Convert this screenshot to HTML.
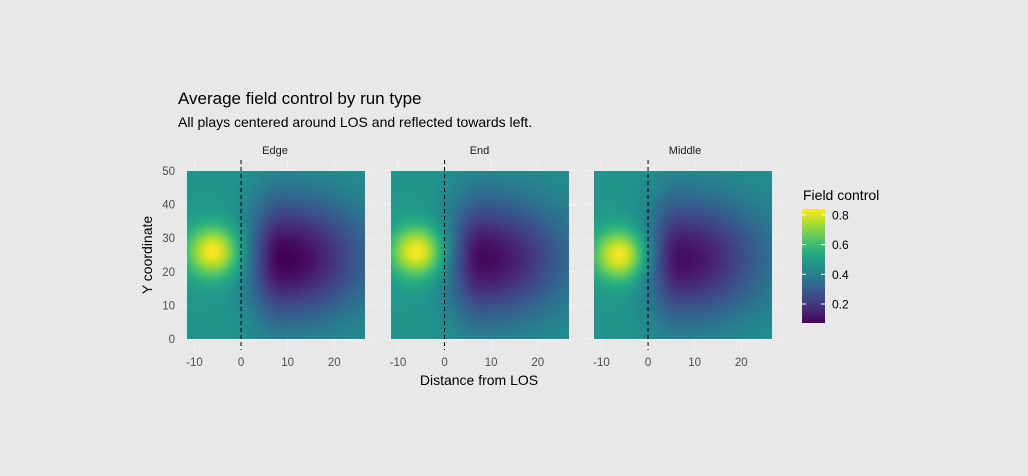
<!DOCTYPE html>
<html><head><meta charset="utf-8"><style>
body{margin:0;background:#e8e8e8;font-family:"Liberation Sans",sans-serif}
#wrap{position:relative;width:1028px;height:476px;overflow:hidden}
</style></head><body>
<div id="wrap">
<svg id="svg" width="1028" height="476" style="position:absolute;left:0;top:0">
<text x="178" y="104" font-size="17" fill="#000">Average field control by run type</text>
<text x="178" y="127" font-size="14" fill="#000">All plays centered around LOS and reflected towards left.</text>
<text x="479" y="385" font-size="14" text-anchor="middle" fill="#000">Distance from LOS</text>
<text transform="translate(152,255) rotate(-90)" font-size="14" text-anchor="middle" fill="#000">Y coordinate</text>
<text x="803" y="200" font-size="14" fill="#000">Field control</text>
<g id="g"></g>
</svg>
</div>
<script>
const panels=["Edge","End","Middle"];
const brightX=[-6,-6,-6], brightY=[26,26,25], brightAmp=[0.37,0.37,0.37];
const darkX=[9,8,7], darkY=[24,24,24], darkAmp=[0.40,0.38,0.37];
const baseVal=[0.47,0.47,0.47];
const xTicks=[-10,0,10,20], yTicks=[0,10,20,30,40,50], legendTicks=[0.2,0.4,0.6,0.8];
const xMin=-11.6,xMax=26.6,yMin=0,yMax=50;
const pw=178,ph=168,top0=171,left0=187,gap=203.5;
const vir=[[68,1,84],[72,36,117],[65,68,135],[53,95,141],[42,120,142],[33,145,140],[34,168,132],[68,190,112],[122,209,81],[189,223,38],[253,231,37]];
const cMin=0.072,cMax=0.84;
function col(v){let t=(v-cMin)/(cMax-cMin);t=Math.max(0,Math.min(1,t))*(vir.length-1);const i=Math.min(vir.length-2,Math.floor(t)),f=t-i;return vir[i].map((c,k)=>Math.round(c+(vir[i+1][k]-c)*f));}
function val(p,x,y){
 const d1=((x-brightX[p])**2)/(2*4.0**2)+((y-brightY[p])**2)/(2*5.3**2);
 const dx=x-darkX[p];const sx=dx<0?5:13;
 const d2=(dx*dx)/(2*sx*sx)+((y-darkY[p])**2)/(2*13**2);
 let v=baseVal[p]+brightAmp[p]*Math.exp(-d1)-darkAmp[p]*Math.exp(-d2);
 return v;}
const g=document.getElementById('g');const NS="http://www.w3.org/2000/svg";
function mk(t,a,par){const e=document.createElementNS(NS,t);for(const k in a)e.setAttribute(k,a[k]);(par||g).appendChild(e);return e;}
const sx=(p,x)=>left0+p*gap+(x-xMin)/(xMax-xMin)*pw;
const sy=y=>top0+ph-(y-yMin)/(yMax-yMin)*ph;
panels.forEach((name,p)=>{
 xTicks.forEach(t=>{const l=mk('line',{x1:sx(p,t),x2:sx(p,t),y1:160,y2:350,stroke:'#f2f2f2','stroke-width':1});
 
 
 const tx=mk('text',{x:sx(p,t),y:366,'font-size':11.5,'text-anchor':'middle',fill:'#4d4d4d'});tx.textContent=t;
 
 });
 yTicks.forEach(t=>{const l=mk('line',{x1:left0+p*gap-8,x2:left0+p*gap+pw+8,y1:sy(t),y2:sy(t),stroke:'#f2f2f2','stroke-width':1});
 
 });
 const fo=mk('foreignObject',{x:left0+p*gap,y:top0,width:pw,height:ph});
 
 
 const cv=document.createElement('canvas');cv.width=pw;cv.height=ph;cv.style.display='block';fo.appendChild(cv);
 const ctx=cv.getContext('2d');const im=ctx.createImageData(pw,ph);
 for(let j=0;j<ph;j++)for(let i=0;i<pw;i++){const x=xMin+(i+0.5)/pw*(xMax-xMin),y=yMax-(j+0.5)/ph*(yMax-yMin);const c=col(val(p,x,y));const o=(j*pw+i)*4;im.data[o]=c[0];im.data[o+1]=c[1];im.data[o+2]=c[2];im.data[o+3]=255;}
 ctx.putImageData(im,0,0);
 const los=mk('line',{x1:sx(p,0),x2:sx(p,0),y1:160,y2:350,stroke:'#000','stroke-width':1,'stroke-dasharray':'4,3'});
 
 
 const st=mk('text',{x:left0+p*gap+pw/2+(p==0?-1:0)+(p==2?2:0),y:154,'font-size':11,'text-anchor':'middle',fill:'#1a1a1a'});st.textContent=name;
 
 
});
yTicks.forEach(t=>{const tx=mk('text',{x:175,y:sy(t)+4,'font-size':11.5,'text-anchor':'end',fill:'#4d4d4d'});tx.textContent=t;
 
 });
const lb={x:802,w:23,top:209,bot:323};
const ly=v=>lb.bot-(v-cMin)/(cMax-cMin)*(lb.bot-lb.top);
const fo=mk('foreignObject',{x:lb.x,y:lb.top,width:lb.w,height:lb.bot-lb.top});


const cv=document.createElement('canvas');cv.width=lb.w;cv.height=lb.bot-lb.top;cv.style.display='block';fo.appendChild(cv);
const c2=cv.getContext('2d');for(let j=0;j<cv.height;j++){const c=col(cMax-(j+0.5)/cv.height*(cMax-cMin));c2.fillStyle=`rgb(${c})`;c2.fillRect(0,j,lb.w,1);}
legendTicks.forEach(t=>{const y=ly(t);
 mk('line',{x1:lb.x,x2:lb.x+4,y1:y,y2:y,stroke:'#fff'});mk('line',{x1:lb.x+lb.w-4,x2:lb.x+lb.w,y1:y,y2:y,stroke:'#fff'});
 const tx=mk('text',{x:832,y:y+4.5,'font-size':12,fill:'#000'});tx.textContent=t.toFixed(1);
 
 });
</script>
</body></html>
